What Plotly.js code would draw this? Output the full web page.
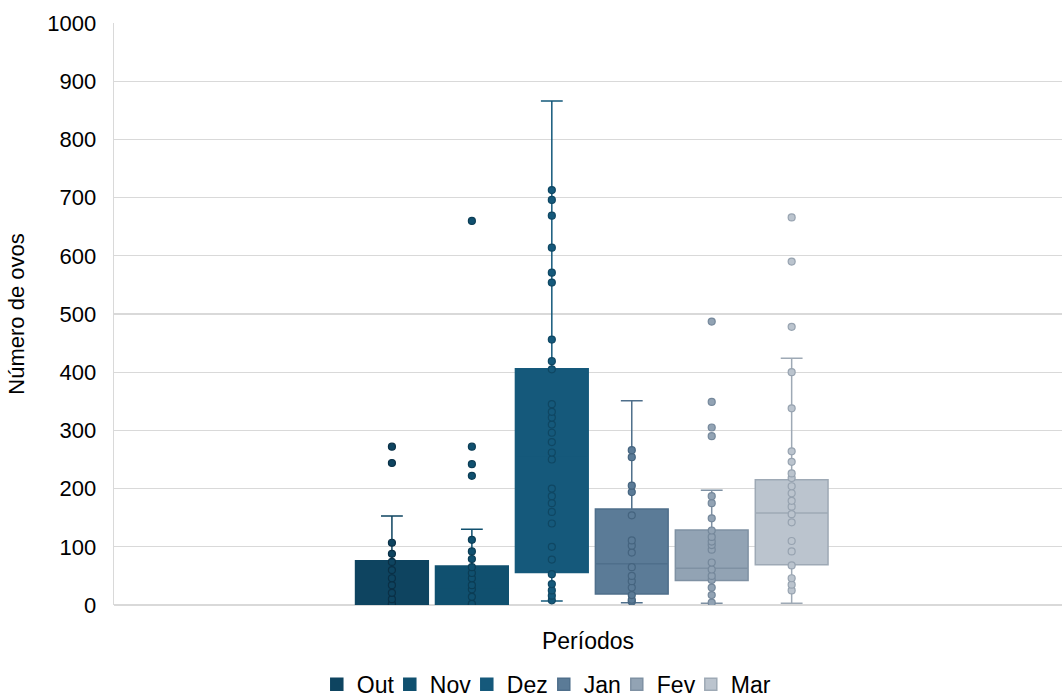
<!DOCTYPE html>
<html>
<head>
<meta charset="utf-8">
<script src="https://cdn.plot.ly/plotly-3.0.1.min.js"></script>
<style>html,body{margin:0;padding:0;background:#fff;}#chart{width:1063px;height:699px;}</style>
</head>
<body>
<div id="chart"></div>
<script>
const seriesNames = ['Out', 'Nov', 'Dez', 'Jan', 'Fev', 'Mar'];
const category = 'Períodos';

// Visible data points (points hidden under the whisker caps are left out)
const outValues = [0, 2, 10, 21, 34, 46, 60, 74, 88, 107, 244, 272];
const novValues = [0, 2, 14, 27, 34, 46, 55, 65, 79, 92, 112, 222, 242, 272, 660];
const dezValues = [8, 16, 25, 36, 53, 78, 100, 140, 160, 175, 187, 200, 250, 262, 280, 296, 310, 322, 332, 345, 405, 419, 456, 554, 571, 614, 669, 696, 713];
const janValues = [6, 9, 17, 30, 41, 50, 65, 90, 102, 111, 154, 194, 205, 254, 266];
const fevValues = [4, 17, 30, 43, 50, 61, 73, 95, 103, 109, 117, 128, 149, 175, 187, 290, 305, 349, 487];
const marValues = [25, 35, 46, 68, 92, 110, 142, 156, 169, 179, 192, 204, 218, 226, 246, 264, 338, 400, 478, 590, 666];

// Box statistics (Excel quartiles)
const q1s         = [0, 0, 56, 19, 42, 69];
const medians     = [21, 27, 254, 71, 63, 158];
const q3s         = [76, 67, 406, 165, 129, 215];
const lowerFences = [0, 0, 7, 4, 3, 3];
const upperFences = [153, 130, 866, 351, 197, 424];

const allValues = [outValues, novValues, dezValues, janValues, fevValues, marValues];

// styles
const fills = ['#0e4460', '#10506f', '#15597b', '#5b7b97', '#92a3b4', '#bbc4ce'];
const lines = ['#0e4460', '#10506f', '#15597b', '#4f6f8b', '#7f91a3', '#9ea9b5'];
const markerLines = ['#0a3046', '#0b3d55', '#0f4763', '#45647f', '#75889b', '#97a3b0'];
const legendWidths = [28, 32, 32, 28, 29, 40];

const traces = seriesNames.map((name, i) => ({
  type: 'box',
  name: name,
  x: [category],
  y: [allValues[i]],
  q1: [q1s[i]],
  median: [medians[i]],
  q3: [q3s[i]],
  lowerfence: [lowerFences[i]],
  upperfence: [upperFences[i]],
  boxpoints: 'all',
  jitter: 0,
  pointpos: 0,
  whiskerwidth: 0.3,
  fillcolor: fills[i],
  line: {color: lines[i], width: 1.5},
  marker: {color: fills[i], size: 7, line: {color: markerLines[i], width: 1.2}},
  legendwidth: legendWidths[i],
  hoverinfo: 'y'
}));

const layout = {
  width: 1063,
  height: 699,
  margin: {l: 114, r: 1, t: 23, b: 94},
  paper_bgcolor: '#ffffff',
  plot_bgcolor: '#ffffff',
  font: {family: 'Liberation Sans, Arial, sans-serif', color: '#000000', size: 22},
  boxmode: 'group',
  boxgap: 0.494,
  boxgroupgap: 0.09,
  showlegend: true,
  legend: {
    orientation: 'h',
    xref: 'paper',
    x: 0.456, xanchor: 'center',
    yref: 'container',
    y: 0.021, yanchor: 'middle',
    font: {size: 23, color: '#000000'},
    itemclick: false
  },
  xaxis: {
    type: 'category',
    range: [-0.504, 0.496],
    automargin: false,
    showticklabels: false,
    showgrid: false,
    showline: false,
    zeroline: false,
    ticks: '',
    title: {text: 'Períodos', font: {size: 23, color: '#000000'}, standoff: 27}
  },
  yaxis: {
    range: [0, 1000],
    dtick: 100,
    tick0: 0,
    automargin: false,
    showgrid: true,
    gridcolor: '#d9d9d9',
    gridwidth: 1.3,
    showline: true,
    linecolor: '#d9d9d9',
    linewidth: 1.3,
    zeroline: true,
    zerolinecolor: '#d9d9d9',
    zerolinewidth: 1.3,
    ticks: '',
    ticklabelstandoff: 12,
    tickfont: {size: 22, color: '#000000'},
    title: {text: 'Número de ovos', font: {size: 22, color: '#000000'}, standoff: 16}
  }
};

Plotly.newPlot('chart', traces, layout, {displayModeBar: false, staticPlot: true});
</script>
</body>
</html>
